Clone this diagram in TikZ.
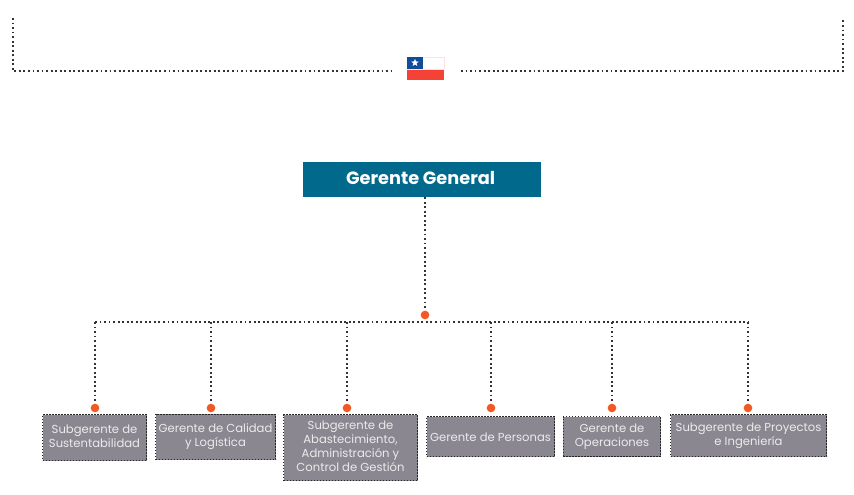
\documentclass[tikz,border=0pt]{standalone}
\usepackage{fontspec}
\setmainfont{Poppins}
\usepackage{xcolor}
\definecolor{headblue}{HTML}{00698C}
\definecolor{boxgray}{HTML}{8A8791}
\definecolor{dotred}{HTML}{F15A24}
\definecolor{flagblue}{HTML}{0F4C9A}
\definecolor{flagred}{HTML}{F44336}
\usetikzlibrary{shapes.geometric}
\tikzset{
    dotline/.style={draw=black!80, line width=1.4pt, dash pattern=on 1.4pt off 2pt},
    redbullet/.style={circle, fill=dotred, minimum size=6.5pt, inner sep=0pt},
    areabox/.style={draw=black!85, line width=1.1pt, dash pattern=on 1.1pt off 1.15pt, fill=boxgray, text=white!92!black, align=center, inner sep=0pt, font=\fontsize{8.7}{10.5}\selectfont, execute at begin node=\rule{0pt}{10.5pt}, execute at end node=\rule[-2.4pt]{0pt}{2.4pt}},
}
\begin{document}
\begin{tikzpicture}[x=0.75pt, y=-0.75pt]
    \useasboundingbox (0,0) rectangle (854,494);

    % marco superior
    \coordinate (frameA) at (13,18);
    \coordinate (frameB) at (13,71);
    \coordinate (frameC) at (391,71);
    \coordinate (frameD) at (461,71);
    \coordinate (frameE) at (843,71);
    \coordinate (frameF) at (843,18);
    \draw[dotline] (frameA) -- (frameB) -- (frameC);
    \draw[dotline] (frameD) -- (frameE) -- (frameF);

    % bandera
    \fill[flagred] (407,69) rectangle (444,80);
    \draw[red!12, line width=0.5pt] (407,57) rectangle (444,69);
    \fill[flagblue] (407,57) rectangle (423,69);
    \node[star, star points=5, star point ratio=2.4, fill=white, minimum size=6pt, inner sep=0pt] (flagstar) at (415,62.8) {};

    \node[fill=headblue, text=white, minimum width=178.5pt, minimum height=26.25pt, inner sep=0pt, font=\fontsize{13.3}{15}\selectfont\bfseries] (gerente) at (422,179.5) {\hspace*{-2pt}\raisebox{2.5pt}{Gerente General}};

    \node[redbullet] (top) at (425,315) {};
    \coordinate (lineL) at (95,322);
    \coordinate (lineR) at (748,322);

    \node[redbullet] (b1) at (95,408) {};
    \node[redbullet] (b2) at (211,408) {};
    \node[redbullet] (b3) at (347,408) {};
    \node[redbullet] (b4) at (491,408) {};
    \node[redbullet] (b5) at (612,408) {};
    \node[redbullet] (b6) at (748,408) {};

    \node[areabox, minimum width=78pt, minimum height=34.5pt] (sust) at (94.5,437.5) {Subgerente de\\Sustentabilidad};
    \node[areabox, minimum width=90pt, minimum height=34pt] (cal) at (215.5,437) {Gerente de Calidad\\y Logística};
    \node[areabox, minimum width=100.5pt, minimum height=49.5pt] (abas) at (350.5,447.5) {Subgerente de\\Abastecimiento,\\Administración y\\Control de Gestión};
    \node[areabox, minimum width=96pt, minimum height=30pt] (pers) at (490.5,436.5) {Gerente de Personas};
    \node[areabox, minimum width=73pt, minimum height=30pt] (oper) at (612,436.5) {Gerente de\\Operaciones};
    \node[areabox, minimum width=117pt, minimum height=31.5pt] (proy) at (748.5,435.5) {Subgerente de Proyectos\\e Ingeniería};

    \draw[dotline] (top |- gerente.south) -- (top);
    \draw[dotline] (lineL) -- (lineR);
    \draw[dotline] (lineL) -- (b1);
    \draw[dotline] (b2 |- lineL) -- (b2);
    \draw[dotline] (b3 |- lineL) -- (b3);
    \draw[dotline] (b4 |- lineL) -- (b4);
    \draw[dotline] (b5 |- lineL) -- (b5);
    \draw[dotline] (lineR) -- (b6);
\end{tikzpicture}
\end{document}
